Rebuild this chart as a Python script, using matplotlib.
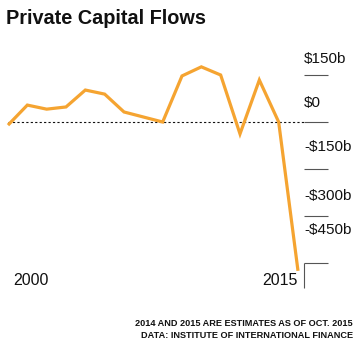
import matplotlib
matplotlib.use("Agg")
import matplotlib.pyplot as plt

years = list(range(2000, 2016))
flows = [-10, 54, 41, 48, 102, 89, 32, 16, 0, 147, 176, 150, -38, 134, 0, -475]
tick_vals = [150, 0, -150, -300, -450]
tick_labels = ["$150b", "$0", "-$150b", "-$300b", "-$450b"]
year_labels = ["2000", "2015"]

ORANGE = "#F5A431"
DARK = "#111111"
GREY = "#555555"

plt.rcParams["font.family"] = ["Liberation Sans", "DejaVu Sans"]

fig = plt.figure(figsize=(3.6, 3.52), dpi=100)
ax = fig.add_axes([0, 0, 1, 1])
ax.axis("off")

# pixel mapping: 2000 -> x 8px, 2015 -> x 298px; $0 -> y 122px, 150b per 47px
px_per_year = 290 / 15
px_per_b = 47 / 150
ax.set_xlim(2000 - 8 / px_per_year, 2000 + 352 / px_per_year)
ax.set_ylim(-(352 - 122) / px_per_b, 122 / px_per_b)

axis_x0 = 2000 + 296 / px_per_year
axis_x1 = 2000 + 320 / px_per_year

# zero line
ax.hlines(0, years[0], axis_x0, colors=DARK, linewidth=0.8, linestyles=(0, (2, 2)))

ax.plot(years, flows, color=ORANGE, linewidth=2.3, solid_joinstyle="miter",
        solid_capstyle="butt", zorder=5, clip_on=False)

# right axis ticks with labels sitting above them
ax.hlines(tick_vals, axis_x0, axis_x1, colors=GREY, linewidth=0.8)
label_lift = [12, 15, 18, 16, 29]  # px above the tick line
for v, lab, lift in zip(tick_vals, tick_labels, label_lift):
    ax.annotate(lab, xy=(axis_x0, v), xytext=(0, lift * 0.72), textcoords="offset points",
                fontsize=11, color=DARK, ha="left", va="baseline")

# corner at bottom
ax.vlines(axis_x0, tick_vals[-1], -530, colors=GREY, linewidth=0.8)

# year labels
ax.annotate(year_labels[0], xy=(years[0], -506), xytext=(3.5, 0), textcoords="offset points",
            fontsize=11.5, color=DARK, ha="left", va="center")
ax.annotate(year_labels[1], xy=(years[-1], -506), xytext=(0, 0), textcoords="offset points",
            fontsize=11.5, color=DARK, ha="right", va="center")

fig.text(6 / 360, 1 - 18 / 352, "Private Capital Flows", fontsize=14.3,
         fontweight="bold", color=DARK, ha="left", va="center")

fig.text(353 / 360, 1 - 323 / 352, "2014 AND 2015 ARE ESTIMATES AS OF OCT. 2015",
         fontsize=6.6, fontweight="bold", color=DARK, ha="right", va="center")
fig.text(353 / 360, 1 - 336 / 352, "DATA: INSTITUTE OF INTERNATIONAL FINANCE",
         fontsize=6.6, fontweight="bold", color=DARK, ha="right", va="center")

fig.savefig("out.png", dpi=100, facecolor="white")
